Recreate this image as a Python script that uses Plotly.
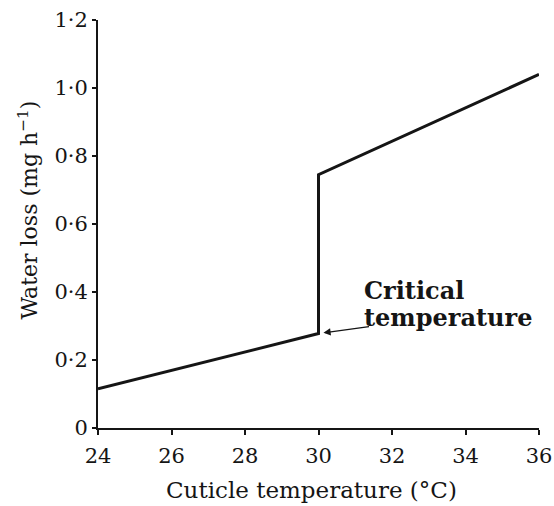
import plotly.graph_objects as go

temperature = [24, 30, 30, 36]
water_loss = [0.115, 0.278, 0.745, 1.04]

x_ticks = [24, 26, 28, 30, 32, 34, 36]
y_ticks = [0, 0.2, 0.4, 0.6, 0.8, 1.0, 1.2]
y_tick_labels = ["0", "0·2", "0·4", "0·6", "0·8", "1·0", "1·2"]

critical_x = 30
critical_y = 0.278
label_x = 31.18
label_lines = ["Critical", "temperature"]
label_line_y = [0.405, 0.326]

x_title = "Cuticle temperature (°C)"
y_title = "Water loss (mg h<sup>−1</sup>)"

font_family = "DejaVu Serif, Liberation Serif, serif"
ink = "#151515"

fig = go.Figure()
fig.add_trace(go.Scatter(
    x=temperature, y=water_loss, mode="lines",
    line=dict(color=ink, width=3),
    showlegend=False, hoverinfo="skip",
))

# arrow pointing at the critical temperature
fig.add_annotation(
    x=critical_x, y=critical_y, xref="x", yref="y",
    text="", showarrow=True, arrowhead=2, arrowsize=1.1, arrowwidth=1.3,
    arrowcolor=ink, ax=52, ay=-7, standoff=5,
)
for line_text, ly in zip(label_lines, label_line_y):
    fig.add_annotation(
        x=label_x, y=ly, xref="x", yref="y",
        text="<b>" + line_text + "</b>", showarrow=False,
        xanchor="left", yanchor="middle", align="left",
        font=dict(family=font_family, size=24, color=ink),
    )

# axis titles
fig.add_annotation(
    x=0.485, y=-0.152, xref="paper", yref="paper", text=x_title,
    showarrow=False, xanchor="center", yanchor="middle",
    font=dict(family=font_family, size=23, color=ink),
)
fig.add_annotation(
    x=-0.159, y=0.535, xref="paper", yref="paper", text=y_title,
    textangle=-90, showarrow=False, xanchor="center", yanchor="middle",
    font=dict(family=font_family, size=22, color=ink),
)

fig.update_layout(
    width=554, height=506,
    margin=dict(l=98, r=15, t=20, b=78),
    paper_bgcolor="white", plot_bgcolor="white",
    font=dict(family=font_family, size=22, color=ink),
)
fig.update_xaxes(
    range=[24, 36], tickvals=x_ticks,
    showgrid=False, zeroline=False, automargin=False,
    showline=True, linecolor=ink, linewidth=2,
    ticks="outside", ticklen=5, tickwidth=1.5, tickcolor=ink,
    ticklabelstandoff=3,
    tickfont=dict(family=font_family, size=21),
)
fig.update_yaxes(
    range=[0, 1.2], tickvals=y_ticks, ticktext=y_tick_labels,
    showgrid=False, zeroline=False, automargin=False,
    showline=True, linecolor=ink, linewidth=2,
    ticks="outside", ticklen=4, tickwidth=1.5, tickcolor=ink,
    tickfont=dict(family=font_family, size=21),
)

fig.write_html(
    "out.html",
    config={"displayModeBar": False},
    post_script="document.body.style.margin='0px';document.body.style.overflow='hidden';",
)
